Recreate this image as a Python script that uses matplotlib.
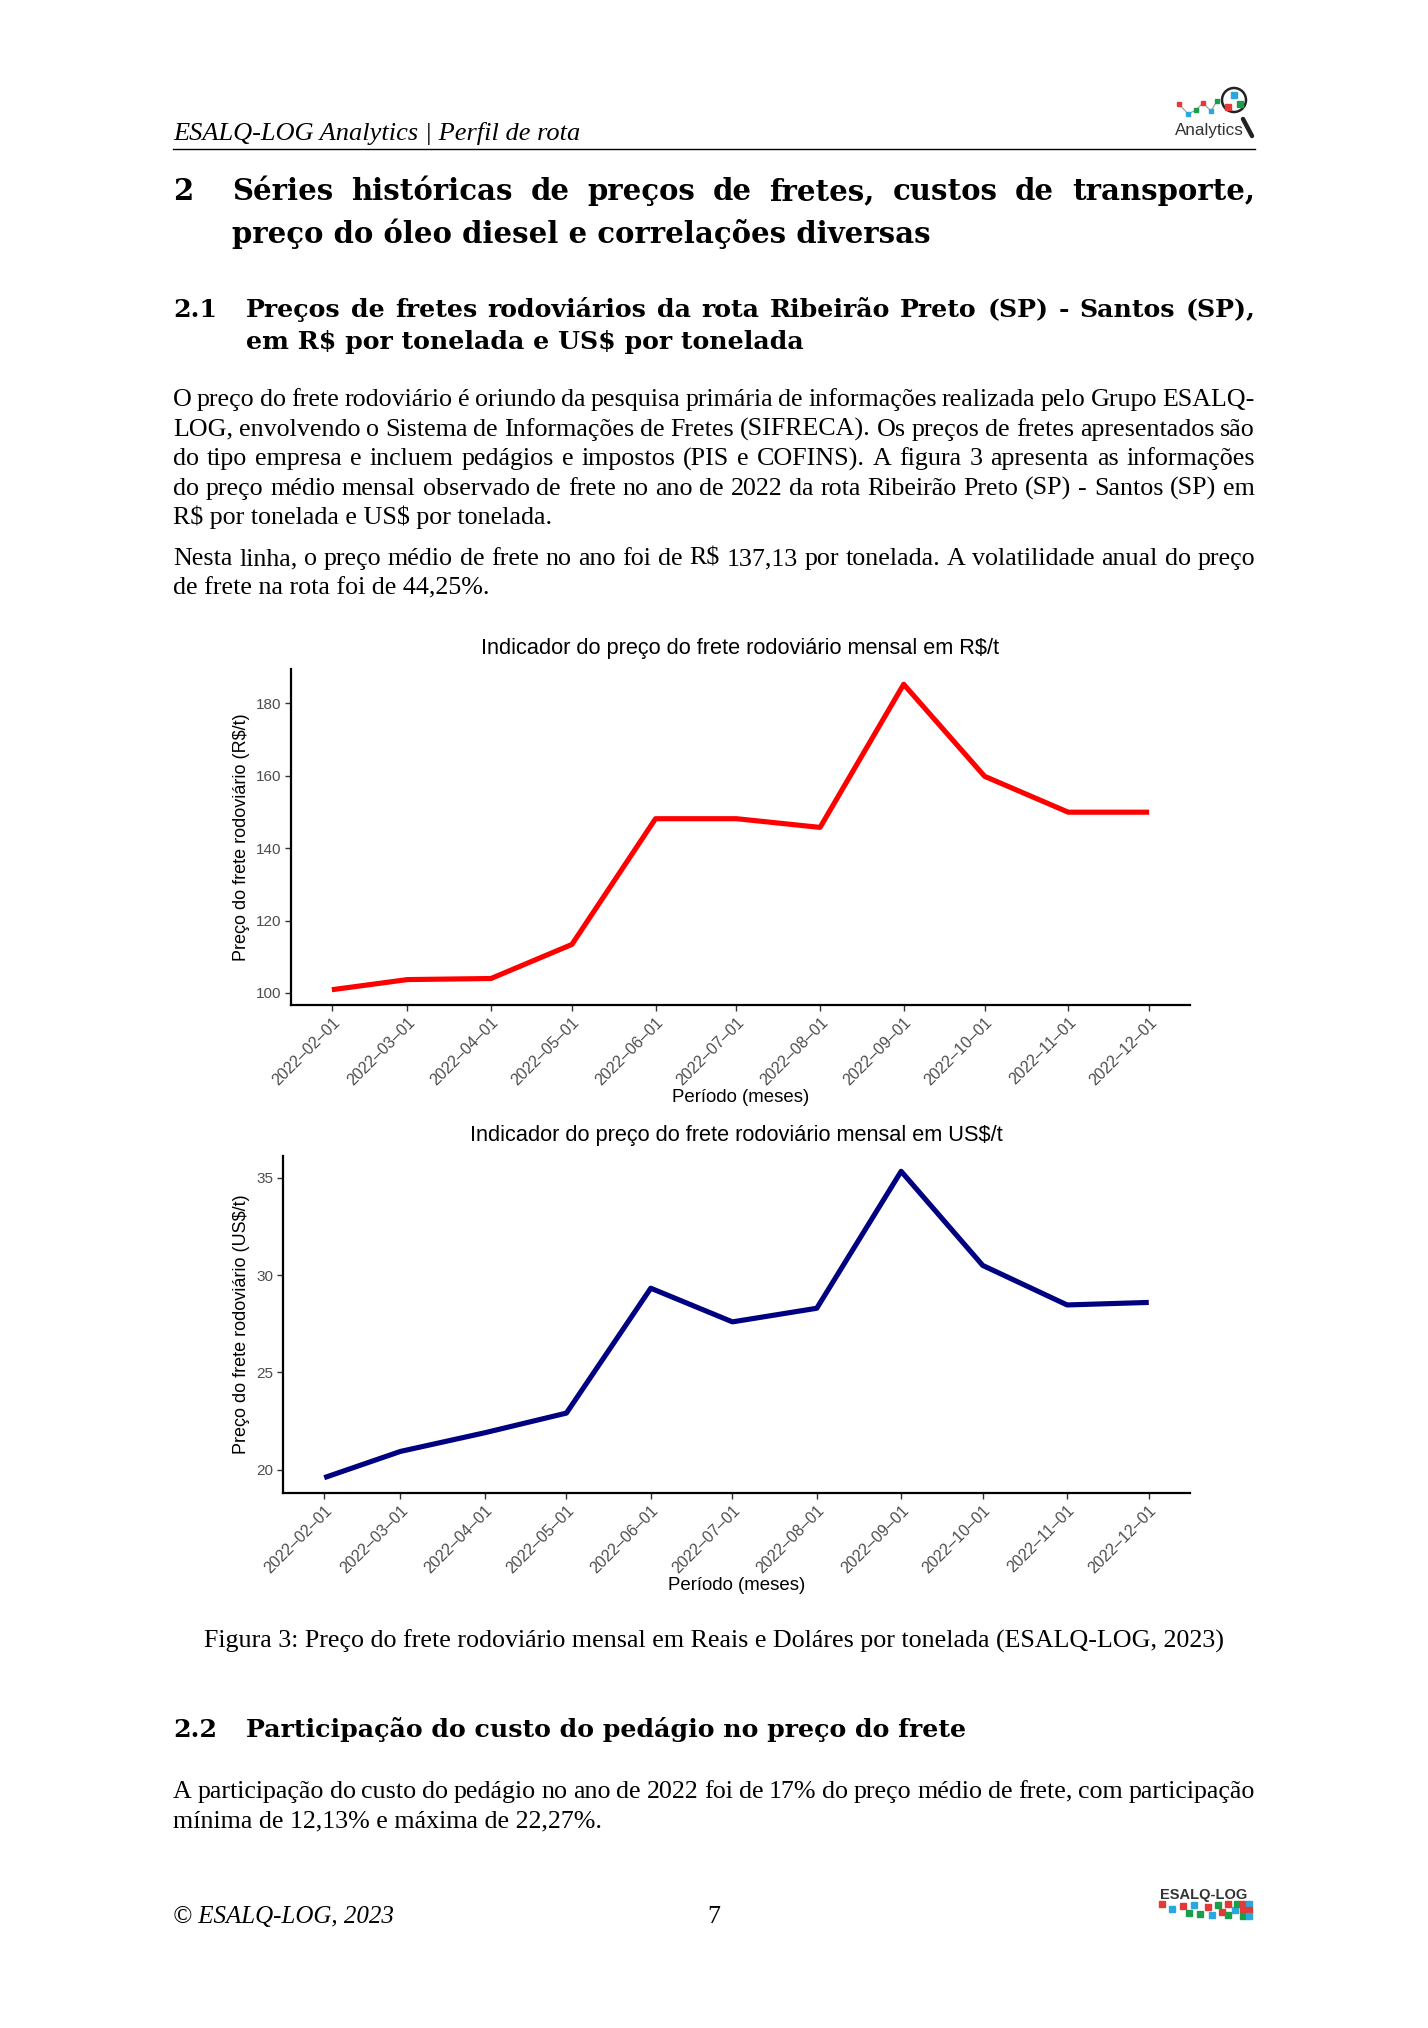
# -*- coding: utf-8 -*-
"""
Página 7 do perfil de rota ESALQ-LOG: texto + dois gráficos de frete mensal
(R$/t e US$/t) da rota Ribeirão Preto (SP) - Santos (SP).
"""

import datetime as dt

import matplotlib
matplotlib.use("Agg")
import matplotlib.pyplot as plt
from matplotlib.patches import Circle

# ---------------------------------------------------------------- dados
MESES = ["2022-02-01", "2022-03-01", "2022-04-01", "2022-05-01", "2022-06-01",
         "2022-07-01", "2022-08-01", "2022-09-01", "2022-10-01", "2022-11-01",
         "2022-12-01"]
FRETE_RS = [100.9, 103.7, 104.0, 113.4, 148.1, 148.1, 145.7, 185.2, 159.8, 149.9, 149.9]
FRETE_US = [19.59, 20.94, 21.9, 22.91, 29.33, 27.6, 28.3, 35.34, 30.5, 28.47, 28.6]
TICKS_RS = [100, 120, 140, 160, 180]
TICKS_US = [20, 25, 30, 35]

PARAGRAFO_1 = [
    "O preço do frete rodoviário é oriundo da pesquisa primária de informações realizada pelo Grupo ESALQ-",
    "LOG, envolvendo o Sistema de Informações de Fretes (SIFRECA). Os preços de fretes apresentados são",
    "do tipo empresa e incluem pedágios e impostos (PIS e COFINS). A figura 3 apresenta as informações",
    "do preço médio mensal observado de frete no ano de 2022 da rota Ribeirão Preto (SP) - Santos (SP) em",
    "R$ por tonelada e US$ por tonelada.",
]
PARAGRAFO_2 = [
    "Nesta linha, o preço médio de frete no ano foi de R$ 137,13 por tonelada. A volatilidade anual do preço",
    "de frete na rota foi de 44,25%.",
]
PARAGRAFO_3 = [
    "A participação do custo do pedágio no ano de 2022 foi de 17% do preço médio de frete, com participação",
    "mínima de 12,13% e máxima de 22,27%.",
]

W, H = 1428, 2028
X0, X1 = 173, 1255
SERIF = "Liberation Serif"
SERIF_B = "DejaVu Serif"
SANS = "Liberation Sans"
CORPO = 18.7
SUB = 18.2

fig = plt.figure(figsize=(W / 100, H / 100), dpi=100)
renderer = fig.canvas.get_renderer()


def fx(x):
    return x / W


def fy(y):
    return 1 - y / H


def texto(x, y, s, **kw):
    kw.setdefault("family", SERIF)
    kw.setdefault("va", "baseline")
    return fig.text(fx(x), fy(y), s, parse_math=False, **kw)


def linha(s, x0, y, x1=None, **kw):
    """Escreve uma linha; se x1 é dado, justifica as palavras entre x0 e x1."""
    if x1 is None:
        return texto(x0, y, s, **kw)
    palavras = s.split(" ")
    objs = [texto(x0, y, p, **kw) for p in palavras]
    larg = [o.get_window_extent(renderer).width for o in objs]
    gap = (x1 - x0 - sum(larg)) / (len(objs) - 1)
    if gap < 5:  # linha larga demais: reduz a fonte
        fator = (x1 - x0 - 6 * (len(objs) - 1)) / sum(larg)
        for o in objs:
            o.set_fontsize(o.get_fontsize() * fator)
        larg = [o.get_window_extent(renderer).width for o in objs]
        gap = (x1 - x0 - sum(larg)) / (len(objs) - 1)
    x = x0
    for o, w in zip(objs, larg):
        o.set_x(fx(x))
        x += w + gap


def paragrafo(linhas, y0, passo, size=CORPO):
    for i, s in enumerate(linhas):
        ultima = i == len(linhas) - 1
        linha(s, X0, y0 + i * passo, None if ultima else X1, size=size)


# ---------------------------------------------------------------- cabeçalho
texto(X0, 140, "ESALQ-LOG Analytics | Perfil de rota", size=19, style="italic")
fig.add_artist(plt.Line2D([fx(X0), fx(X1)], [fy(149), fy(149)], color="black", lw=1.0))

# logo "Analytics"
logo_x = [1179, 1188, 1196, 1203, 1211, 1217]
logo_y = [104, 114, 110, 103, 111, 101]
logo_c = ["#e53935", "#29a8e0", "#1a9e4a", "#e53935", "#29a8e0", "#1a9e4a"]
fig.add_artist(plt.Line2D([fx(v) for v in logo_x], [fy(v) for v in logo_y],
                          color="#9a9a9a", lw=0.8))
for xx, yy, cc in zip(logo_x, logo_y, logo_c):
    fig.add_artist(plt.Line2D([fx(xx)], [fy(yy)], marker="s", ms=3.2, color=cc, lw=0))
for xx, yy, cc in zip([1228, 1234, 1240], [107, 95, 104], ["#e53935", "#29a8e0", "#1a9e4a"]):
    fig.add_artist(plt.Line2D([fx(xx)], [fy(yy)], marker="s", ms=4.5, color=cc, lw=0))
fig.add_artist(plt.Line2D([fx(1243), fx(1252)], [fy(119), fy(136)], color="#222222", lw=3.2,
                          solid_capstyle="round"))
fig.add_artist(Circle((1234, H - 100), 12, transform=None, fill=False, ec="#222222", lw=1.8))
texto(1175, 135, "Analytics", family=SANS, size=12.3, color="#333333")

# ---------------------------------------------------------------- títulos
texto(X0, 200, "2", family=SERIF_B, size=21, weight="bold")
linha("Séries históricas de preços de fretes, custos de transporte,", 232, 200, X1,
      family=SERIF_B, size=21, weight="bold")
linha("preço do óleo diesel e correlações diversas", 232, 243, family=SERIF_B, size=21,
      weight="bold")

texto(X0, 317, "2.1", family=SERIF_B, size=SUB, weight="bold")
linha("Preços de fretes rodoviários da rota Ribeirão Preto (SP) - Santos (SP),", 246, 317, X1,
      family=SERIF_B, size=SUB, weight="bold")
linha("em R$ por tonelada e US$ por tonelada", 246, 349, family=SERIF_B, size=SUB,
      weight="bold")

paragrafo(PARAGRAFO_1, 406, 29.6)
paragrafo(PARAGRAFO_2, 565, 29.6)


# ---------------------------------------------------------------- gráficos
def grafico(ret, valores, ticks, cor, titulo, ylabel):
    l, r, t, b = ret
    ax = fig.add_axes([fx(l), fy(b), (r - l) / W, (b - t) / H])
    datas = [dt.datetime.strptime(m, "%Y-%m-%d") for m in MESES]
    ax.plot(datas, valores, color=cor, lw=3.7, solid_joinstyle="round", solid_capstyle="butt")
    ax.margins(x=0.05, y=0.05)
    ax.set_xticks(datas)
    ax.set_xticklabels([m.replace("-", "–") for m in MESES], rotation=45, ha="right",
                       rotation_mode="anchor", family=SANS, size=11.5, color="#4d4d4d")
    ax.set_yticks(ticks)
    ax.set_yticklabels([str(v) for v in ticks], family=SANS, size=11, color="#4d4d4d")
    ax.tick_params(length=4, width=1.0, color="#333333", pad=3)
    for lado in ["top", "right"]:
        ax.spines[lado].set_visible(False)
    for lado in ["left", "bottom"]:
        ax.spines[lado].set_linewidth(1.6)
    ax.set_title(titulo, family=SANS, size=15.7, pad=11)
    ax.set_ylabel(ylabel, family=SANS, size=13)
    ax.set_xlabel("Período (meses)", family=SANS, size=13.4)
    ax.yaxis.set_label_coords((242 - l) / (r - l), 0.5)
    ax.yaxis.label.set_va("center")
    ax.xaxis.set_label_coords(0.5, -93 / (b - t))
    ax.xaxis.label.set_va("center")
    return ax


grafico((291, 1190, 669, 1005), FRETE_RS, TICKS_RS, "#ff0000",
        r"Indicador do preço do frete rodoviário mensal em R\$/t",
        r"Preço do frete rodoviário (R\$/t)")
grafico((283, 1190, 1156, 1493), FRETE_US, TICKS_US, "#000080",
        r"Indicador do preço do frete rodoviário mensal em US\$/t",
        r"Preço do frete rodoviário (US\$/t)")

texto(714, 1648, "Figura 3: Preço do frete rodoviário mensal em Reais e Doláres por tonelada (ESALQ-LOG, 2023)",
      size=CORPO, ha="center")

# ---------------------------------------------------------------- seção 2.2
texto(X0, 1737, "2.2", family=SERIF_B, size=SUB, weight="bold")
linha("Participação do custo do pedágio no preço do frete", 246, 1737, family=SERIF_B,
      size=SUB, weight="bold")
paragrafo(PARAGRAFO_3, 1798, 29.6)

# ---------------------------------------------------------------- rodapé
texto(X0, 1923, "© ESALQ-LOG, 2023", size=18, style="italic")
texto(714, 1923, "7", size=CORPO, ha="center")

texto(1204, 1899, "ESALQ-LOG", family=SANS, size=10.5, weight="bold", color="#333333",
      ha="center")
sq_x = [1162, 1172, 1183, 1189, 1194, 1200, 1208, 1212, 1218, 1222, 1228, 1228, 1235, 1237,
        1243, 1249, 1243, 1249, 1243, 1249]
sq_y = [1904, 1909, 1906, 1913, 1905, 1914, 1907, 1915, 1905, 1912, 1904, 1915, 1910, 1904,
        1904, 1904, 1910, 1910, 1916, 1916]
sq_c = ["#e53935", "#29a8e0", "#e53935", "#1a9e4a", "#29a8e0", "#1a9e4a", "#e53935", "#29a8e0",
        "#1a9e4a", "#e53935", "#e53935", "#1a9e4a", "#29a8e0", "#1a9e4a", "#e53935", "#29a8e0",
        "#e53935", "#e53935", "#1a9e4a", "#29a8e0"]
for xx, yy, cc in zip(sq_x, sq_y, sq_c):
    fig.add_artist(plt.Line2D([fx(xx)], [fy(yy)], marker="s", ms=4.0, color=cc, lw=0))

fig.savefig("out.png", dpi=100, facecolor="white")
